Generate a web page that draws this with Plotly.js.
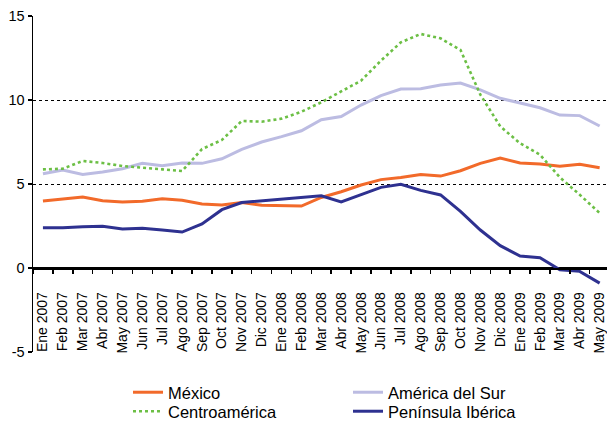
<!DOCTYPE html>
<html>
<head>
<meta charset="utf-8">
<script src="https://cdn.plot.ly/plotly-3.0.1.min.js"></script>
<style>html,body{margin:0;padding:0;background:#fff;}#chart{width:607px;height:421px;}</style>
</head>
<body>
<div id="chart"></div>
<script>
const months = ['Ene 2007','Feb 2007','Mar 2007','Abr 2007','May 2007','Jun 2007','Jul 2007','Ago 2007','Sep 2007','Oct 2007','Nov 2007','Dic 2007',
  'Ene 2008','Feb 2008','Mar 2008','Abr 2008','May 2008','Jun 2008','Jul 2008','Ago 2008','Sep 2008','Oct 2008','Nov 2008','Dic 2008',
  'Ene 2009','Feb 2009','Mar 2009','Abr 2009','May 2009'];
const mexico = [3.99, 4.10, 4.23, 4.00, 3.93, 3.97, 4.12, 4.03, 3.81, 3.75, 3.90, 3.73, 3.69, 3.69, 4.20, 4.54, 4.94, 5.26, 5.39, 5.57, 5.47, 5.79, 6.23, 6.55, 6.25, 6.19, 6.05, 6.17, 5.97];
const americaSur = [5.61, 5.83, 5.57, 5.71, 5.91, 6.23, 6.09, 6.25, 6.23, 6.50, 7.06, 7.50, 7.82, 8.17, 8.83, 9.02, 9.70, 10.26, 10.65, 10.67, 10.89, 11.01, 10.60, 10.10, 9.82, 9.54, 9.10, 9.07, 8.45];
const centroamerica = [5.87, 5.91, 6.37, 6.25, 6.07, 5.99, 5.87, 5.77, 7.08, 7.62, 8.75, 8.71, 8.89, 9.30, 9.86, 10.51, 11.15, 12.34, 13.43, 13.93, 13.67, 12.98, 10.32, 8.43, 7.42, 6.74, 5.39, 4.36, 3.27];
const iberica = [2.40, 2.40, 2.46, 2.48, 2.32, 2.36, 2.26, 2.14, 2.62, 3.47, 3.90, 4.00, 4.10, 4.18, 4.30, 3.93, 4.36, 4.80, 4.98, 4.62, 4.35, 3.37, 2.26, 1.33, 0.71, 0.61, -0.10, -0.20, -0.90];
const yTicks = [-5, 0, 5, 10, 15];
const yTickText = ['-5', '0', '5', '10', '15'];

const FONT = '"Liberation Sans", Arial, Helvetica, sans-serif';

const traces = [
  {x: months, y: americaSur, name: 'América del Sur', type: 'scatter', mode: 'lines',
   line: {color: '#bcbce2', width: 3}, legend: 'legend', legendrank: 2},
  {x: months, y: mexico, name: 'México', type: 'scatter', mode: 'lines',
   line: {color: '#f26a2a', width: 3}, legend: 'legend', legendrank: 1},
  {x: months, y: centroamerica, name: 'Centroamérica', type: 'scatter', mode: 'lines',
   line: {color: '#6cbf45', width: 2.6, dash: 'dot'}, legend: 'legend2', legendrank: 1},
  {x: months, y: iberica, name: 'Península Ibérica', type: 'scatter', mode: 'lines',
   line: {color: '#2e3190', width: 3}, legend: 'legend2', legendrank: 2}
];

const legendBase = {
  orientation: 'h', traceorder: 'normal',
  xref: 'container', yref: 'container',
  xanchor: 'left', yanchor: 'middle',
  entrywidth: 175, entrywidthmode: 'pixels',
  font: {family: FONT, size: 16.5, color: '#000'},
  bgcolor: 'rgba(0,0,0,0)'
};

const layout = {
  width: 607, height: 421,
  margin: {l: 33, r: 0, t: 16, b: 69},
  paper_bgcolor: '#fff', plot_bgcolor: '#fff',
  font: {family: FONT, size: 14, color: '#000'},
  showlegend: true,
  xaxis: {
    type: 'category',
    range: [-0.5, 28.37],
    anchor: 'free', position: 0.25,
    showline: true, linecolor: '#000', linewidth: 1.5,
    ticks: 'outside', tickson: 'boundaries', ticklen: 4, tickcolor: '#000', tickwidth: 1.5,
    tickangle: -90, ticklabelstandoff: 17,
    tickfont: {family: FONT, size: 14, color: '#000'},
    showgrid: false, zeroline: false, fixedrange: true
  },
  yaxis: {
    range: [-5, 15],
    tickvals: yTicks, ticktext: yTickText,
    showline: true, linecolor: '#000', linewidth: 1.5,
    ticks: 'outside', ticklen: 4, tickcolor: '#000', tickwidth: 1.5,
    tickfont: {family: FONT, size: 14.5, color: '#000'},
    showgrid: true, gridcolor: '#000', gridwidth: 1, griddash: '3px,3px',
    zeroline: true, zerolinecolor: '#000', zerolinewidth: 1.5,
    fixedrange: true
  },
  legend: Object.assign({}, legendBase, {x: 128/607, y: 1 - 392.5/421}),
  legend2: Object.assign({}, legendBase, {x: 128/607, y: 1 - 411.5/421})
};

Plotly.newPlot('chart', traces, layout, {staticPlot: true, displayModeBar: false});
</script>
</body>
</html>
